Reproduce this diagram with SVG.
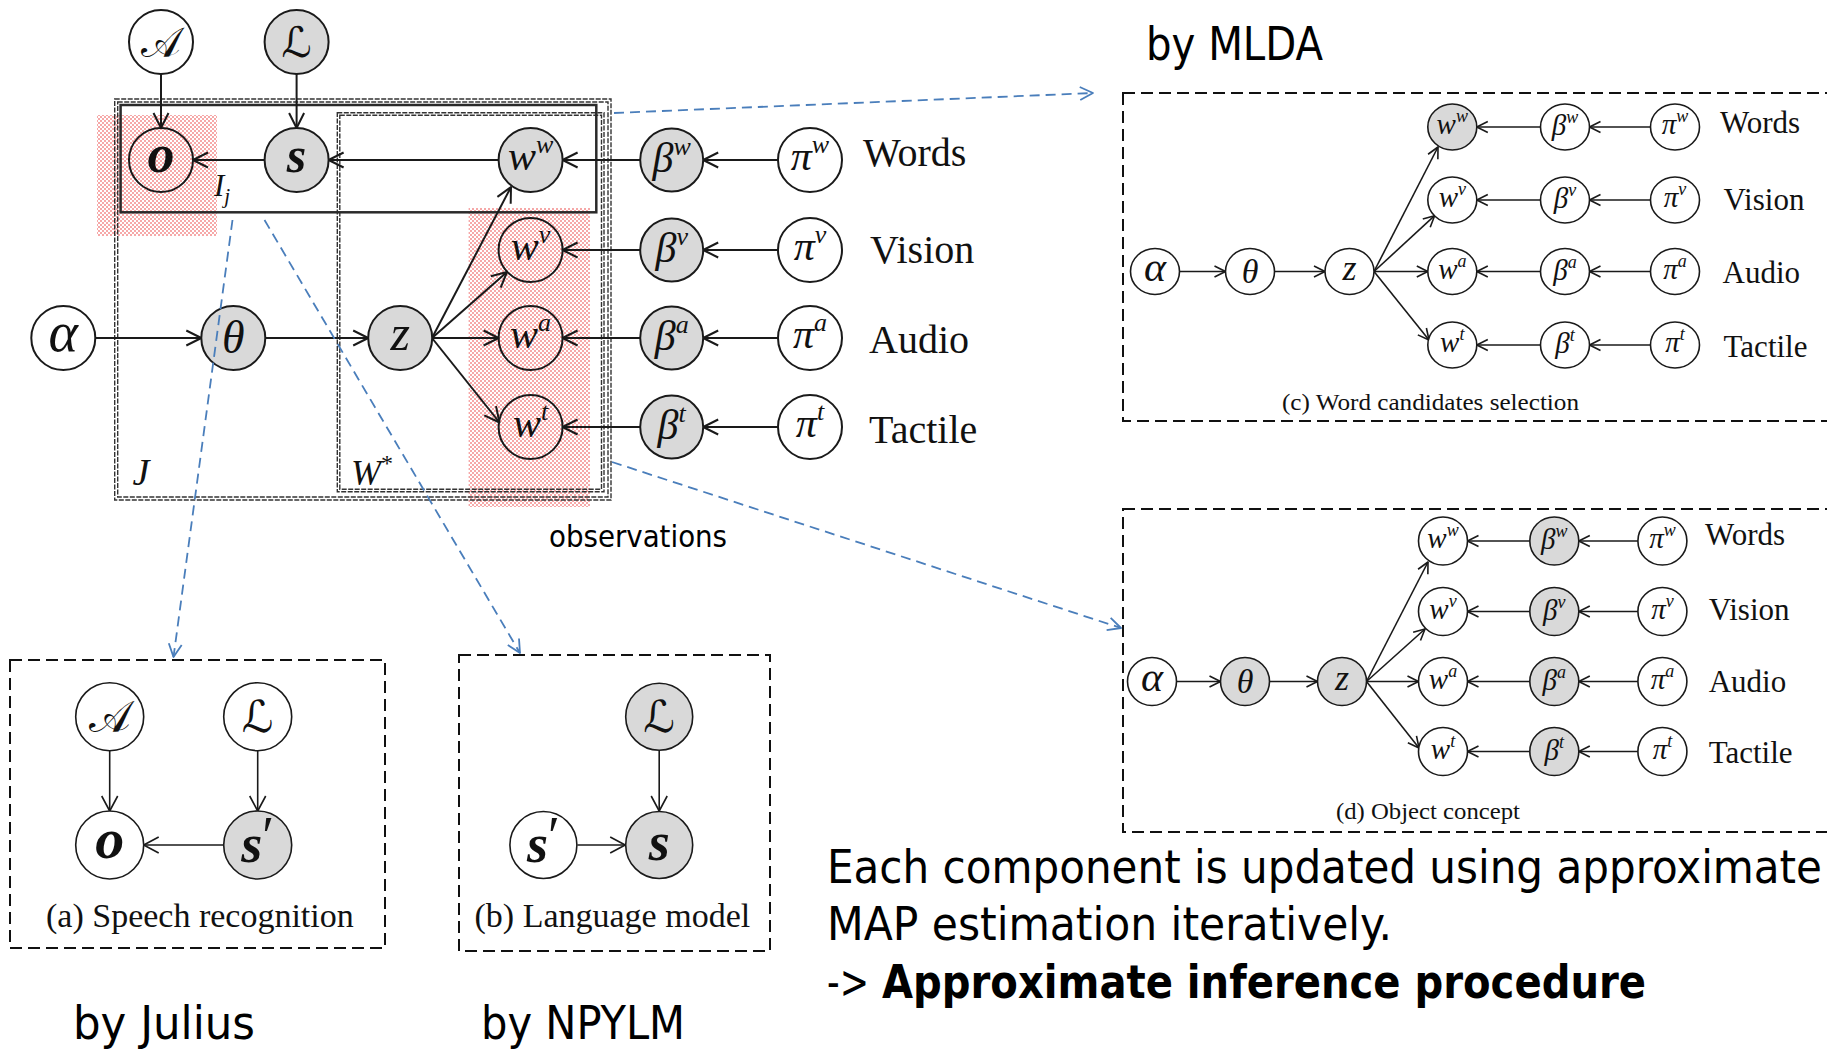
<svg xmlns="http://www.w3.org/2000/svg" width="1827" height="1049" viewBox="0 0 1827 1049">
<style>
.n{stroke:#1a1a1a;stroke-width:2;fill:#fff}
.ns{stroke:#1a1a1a;stroke-width:1.6;fill:#fff}
.g{fill:#d9d9d9}
.clear{fill:none}
.m{font-family:"Liberation Serif","DejaVu Serif",serif;font-style:italic;text-anchor:middle;fill:#111}
.cal{font-family:"DejaVu Serif","DejaVu Sans","Liberation Serif",serif;font-style:normal;text-anchor:middle;fill:#111}
.b{font-weight:bold}
.e{stroke:#1a1a1a;stroke-width:2;fill:none;marker-end:url(#ah)}
.es{stroke:#1a1a1a;stroke-width:1.6;fill:none;marker-end:url(#ahs)}
.em{stroke:#1a1a1a;stroke-width:1.6;fill:none;marker-end:url(#ahm)}
.blue{stroke:#4a7ebb;stroke-width:1.8;fill:none;stroke-dasharray:10 6;marker-end:url(#ahb)}
.lbl{font-family:"Liberation Serif","Times New Roman",serif;fill:#111}
.box{fill:none;stroke:#111;stroke-width:2;stroke-dasharray:12 6}
.plate{fill:none;stroke:#333;stroke-width:1.4;stroke-dasharray:5 1.5}
.sans{font-family:"DejaVu Sans Condensed","DejaVu Sans",sans-serif;font-stretch:condensed;fill:#000}
</style>
<defs>
<marker id="ah" viewBox="-20 -10 22 20" markerWidth="22" markerHeight="20" refX="0" refY="0" orient="auto" markerUnits="userSpaceOnUse" overflow="visible"><path d="M-15,-7.5 L0,0 L-15,7.5" fill="none" stroke="#1a1a1a" stroke-width="2" stroke-linejoin="round"/></marker>
<marker id="ahs" viewBox="-14 -8 16 16" markerWidth="16" markerHeight="16" refX="0" refY="0" orient="auto" markerUnits="userSpaceOnUse" overflow="visible"><path d="M-11,-5.5 L0,0 L-11,5.5" fill="none" stroke="#1a1a1a" stroke-width="1.6" stroke-linejoin="round"/></marker>
<marker id="ahm" viewBox="-18 -10 20 20" markerWidth="20" markerHeight="20" refX="0" refY="0" orient="auto" markerUnits="userSpaceOnUse" overflow="visible"><path d="M-15,-8 L0,0 L-15,8" fill="none" stroke="#1a1a1a" stroke-width="1.6" stroke-linejoin="round"/></marker>
<marker id="ahb" viewBox="-16 -8 18 16" markerWidth="18" markerHeight="16" refX="0" refY="0" orient="auto" markerUnits="userSpaceOnUse" overflow="visible"><path d="M-13,-6.5 L0,0 L-13,6.5" fill="none" stroke="#4a7ebb" stroke-width="1.8" stroke-linejoin="round"/></marker>
<pattern id="pink" width="4" height="4" patternUnits="userSpaceOnUse"><rect x="0" y="0" width="2" height="2" fill="#f6a8a8"/><rect x="2" y="2" width="2" height="2" fill="#f6a8a8"/></pattern>
</defs>

<!-- ============ Main graphical model ============ -->
<!-- highlighted observation areas (drawn first, nodes on top are see-through) -->
<g id="highlight">
  <rect x="97" y="115" width="120" height="121" fill="url(#pink)"/>
  <rect x="468.6" y="208" width="121.4" height="299" fill="url(#pink)"/>
</g>

<g id="plates">
  <rect class="plate" x="114.7" y="99" width="496.3" height="401"/>
  <rect class="plate" x="117.7" y="102" width="490.3" height="395"/>
  <rect class="plate" x="337.3" y="112.7" width="266.7" height="379"/>
  <rect class="plate" x="339.8" y="115.2" width="261.7" height="374"/>
  <rect x="120.6" y="105" width="475.7" height="107.3" fill="none" stroke="#2a2a2a" stroke-width="2.5"/>
  <text class="m" x="141" y="485" font-size="38">J</text>
  <text class="m" x="372" y="485" font-size="36">W<tspan font-size="24" dy="-14" font-style="normal">*</tspan></text>
  <text class="m" x="222" y="196" font-size="31">I<tspan font-size="21" dy="7">j</tspan></text>
</g>

<g id="main-edges">
  <path class="e" d="M161,74 L161,128"/>
  <path class="e" d="M296.6,74 L296.6,128"/>
  <path class="e" d="M264.6,160 L193,160"/>
  <path class="e" d="M499,160 L328.6,160"/>
  <path class="e" d="M95.3,338 L201.3,338"/>
  <path class="e" d="M265.3,338 L368.2,338"/>
  <path class="e" d="M432,338 L511,187"/>
  <path class="e" d="M432,338 L507,272"/>
  <path class="e" d="M432,338 L498.6,338"/>
  <path class="e" d="M432,338 L499.5,422.5"/>
  <path class="e" d="M640.2,160 L562.6,160"/>
  <path class="e" d="M640.2,250 L562.6,250"/>
  <path class="e" d="M640.2,338 L562.6,338"/>
  <path class="e" d="M640.2,427 L562.6,427"/>
  <path class="e" d="M778,160 L703.2,160"/>
  <path class="e" d="M778,250 L703.2,250"/>
  <path class="e" d="M778,338 L703.2,338"/>
  <path class="e" d="M778,427 L703.2,427"/>
</g>

<g id="main-A"><circle class="n" cx="161" cy="42" r="32"/><text class="cal" x="161" y="57" font-size="42" font-style="italic">𝒜</text></g>
<g id="main-L"><circle class="n g" cx="296.6" cy="42" r="32"/><text class="cal" x="296.6" y="57" font-size="42">ℒ</text></g>
<g id="main-o"><circle class="n clear" cx="161" cy="160" r="32"/><text class="m b" x="161" y="172" font-size="54">o</text></g>
<g id="main-s"><circle class="n g" cx="296.6" cy="160" r="32"/><text class="m b" x="296.6" y="172" font-size="50">s</text></g>
<g id="main-ww"><circle class="n g" cx="530.6" cy="160" r="32"/><text class="m" x="530.6" y="170" font-size="42">w<tspan font-size="26" dy="-17">w</tspan></text></g>
<g id="main-wv"><circle class="n clear" cx="530.6" cy="250" r="32"/><text class="m" x="530.6" y="260" font-size="42">w<tspan font-size="26" dy="-17">v</tspan></text></g>
<g id="main-wa"><circle class="n clear" cx="530.6" cy="338" r="32"/><text class="m" x="530.6" y="348" font-size="42">w<tspan font-size="26" dy="-17">a</tspan></text></g>
<g id="main-wt"><circle class="n clear" cx="530.6" cy="427" r="32"/><text class="m" x="530.6" y="437" font-size="42">w<tspan font-size="26" dy="-17">t</tspan></text></g>
<g id="main-alpha"><circle class="n" cx="63.3" cy="338" r="32"/><text class="m" x="63.3" y="351" font-size="56">α</text></g>
<g id="main-theta"><circle class="n g" cx="233.3" cy="338" r="32"/><text class="m" x="233.3" y="353" font-size="46">θ</text></g>
<g id="main-z"><circle class="n g" cx="400.2" cy="338" r="32"/><text class="m" x="400.2" y="350" font-size="50">z</text></g>
<g id="main-bw"><circle class="n g" cx="671.7" cy="160" r="31.5"/><text class="m" x="671.7" y="172" font-size="42">β<tspan font-size="26" dy="-17">w</tspan></text></g>
<g id="main-bv"><circle class="n g" cx="671.7" cy="250" r="31.5"/><text class="m" x="671.7" y="262" font-size="42">β<tspan font-size="26" dy="-17">v</tspan></text></g>
<g id="main-ba"><circle class="n g" cx="671.7" cy="338" r="31.5"/><text class="m" x="671.7" y="350" font-size="42">β<tspan font-size="26" dy="-17">a</tspan></text></g>
<g id="main-bt"><circle class="n g" cx="671.7" cy="427" r="31.5"/><text class="m" x="671.7" y="439" font-size="42">β<tspan font-size="26" dy="-17">t</tspan></text></g>
<g id="main-pw"><circle class="n" cx="810" cy="160" r="32"/><text class="m" x="810" y="170" font-size="42">π<tspan font-size="26" dy="-17">w</tspan></text></g>
<g id="main-pv"><circle class="n" cx="810" cy="250" r="32"/><text class="m" x="810" y="260" font-size="42">π<tspan font-size="26" dy="-17">v</tspan></text></g>
<g id="main-pa"><circle class="n" cx="810" cy="338" r="32"/><text class="m" x="810" y="348" font-size="42">π<tspan font-size="26" dy="-17">a</tspan></text></g>
<g id="main-pt"><circle class="n" cx="810" cy="427" r="32"/><text class="m" x="810" y="437" font-size="42">π<tspan font-size="26" dy="-17">t</tspan></text></g>

<g id="main-labels" class="lbl" font-size="40">
  <text x="863" y="166">Words</text>
  <text x="870" y="263">Vision</text>
  <text x="869" y="353">Audio</text>
  <text x="869" y="443">Tactile</text>
</g>

<text id="observations" class="sans" x="549" y="547" font-size="31" textLength="178" lengthAdjust="spacingAndGlyphs">observations</text>

<!-- ============ (c) Word candidates selection ============ -->
<g id="box-c">
  <rect class="box" x="1123" y="93" width="740" height="328"/>
  <text class="lbl" x="1282" y="410" font-size="24" textLength="297" lengthAdjust="spacingAndGlyphs">(c) Word candidates selection</text>
  <text class="sans" x="1146" y="60" font-size="46" textLength="177" lengthAdjust="spacingAndGlyphs">by MLDA</text>
</g>
<g id="c-edges">
  <path class="es" d="M1179.5,271.5 L1225.5,271.5"/>
  <path class="es" d="M1274.5,271.5 L1325,271.5"/>
  <path class="es" d="M1374,271.5 L1438,147"/>
  <path class="es" d="M1374,271.5 L1434.6,215.7"/>
  <path class="es" d="M1374,271.5 L1427.8,271.5"/>
  <path class="es" d="M1374,271.5 L1429,340"/>
  <path class="es" d="M1540.5,127 L1476.8,127"/>
  <path class="es" d="M1540.5,200 L1476.8,200"/>
  <path class="es" d="M1540.5,271.5 L1476.8,271.5"/>
  <path class="es" d="M1540.5,345 L1476.8,345"/>
  <path class="es" d="M1650.5,127 L1589.5,127"/>
  <path class="es" d="M1650.5,200 L1589.5,200"/>
  <path class="es" d="M1650.5,271.5 L1589.5,271.5"/>
  <path class="es" d="M1650.5,345 L1589.5,345"/>
</g>
<g id="c-alpha"><ellipse class="ns" cx="1155" cy="271.5" rx="24.5" ry="23"/><text class="m" x="1155" y="281" font-size="42">α</text></g>
<g id="c-theta"><ellipse class="ns" cx="1250" cy="271.5" rx="24.5" ry="23"/><text class="m" x="1250" y="283" font-size="34">θ</text></g>
<g id="c-z"><ellipse class="ns" cx="1349.5" cy="271.5" rx="24.5" ry="23"/><text class="m" x="1349.5" y="280" font-size="36">z</text></g>
<g id="c-ww"><ellipse class="ns g" cx="1452.3" cy="127" rx="24.5" ry="23"/><text class="m" x="1452.3" y="134" font-size="29">w<tspan font-size="18" dy="-12">w</tspan></text></g>
<g id="c-wv"><ellipse class="ns" cx="1452.3" cy="200" rx="24.5" ry="23"/><text class="m" x="1452.3" y="207" font-size="29">w<tspan font-size="18" dy="-12">v</tspan></text></g>
<g id="c-wa"><ellipse class="ns" cx="1452.3" cy="271.5" rx="24.5" ry="23"/><text class="m" x="1452.3" y="278.5" font-size="29">w<tspan font-size="18" dy="-12">a</tspan></text></g>
<g id="c-wt"><ellipse class="ns" cx="1452.3" cy="345" rx="24.5" ry="23"/><text class="m" x="1452.3" y="352" font-size="29">w<tspan font-size="18" dy="-12">t</tspan></text></g>
<g id="c-bw"><ellipse class="ns" cx="1565" cy="127" rx="24.5" ry="23"/><text class="m" x="1565" y="135" font-size="29">β<tspan font-size="18" dy="-12">w</tspan></text></g>
<g id="c-bv"><ellipse class="ns" cx="1565" cy="200" rx="24.5" ry="23"/><text class="m" x="1565" y="208" font-size="29">β<tspan font-size="18" dy="-12">v</tspan></text></g>
<g id="c-ba"><ellipse class="ns" cx="1565" cy="271.5" rx="24.5" ry="23"/><text class="m" x="1565" y="279.5" font-size="29">β<tspan font-size="18" dy="-12">a</tspan></text></g>
<g id="c-bt"><ellipse class="ns" cx="1565" cy="345" rx="24.5" ry="23"/><text class="m" x="1565" y="353" font-size="29">β<tspan font-size="18" dy="-12">t</tspan></text></g>
<g id="c-pw"><ellipse class="ns" cx="1675" cy="127" rx="24.5" ry="23"/><text class="m" x="1675" y="134" font-size="29">π<tspan font-size="18" dy="-12">w</tspan></text></g>
<g id="c-pv"><ellipse class="ns" cx="1675" cy="200" rx="24.5" ry="23"/><text class="m" x="1675" y="207" font-size="29">π<tspan font-size="18" dy="-12">v</tspan></text></g>
<g id="c-pa"><ellipse class="ns" cx="1675" cy="271.5" rx="24.5" ry="23"/><text class="m" x="1675" y="278.5" font-size="29">π<tspan font-size="18" dy="-12">a</tspan></text></g>
<g id="c-pt"><ellipse class="ns" cx="1675" cy="345" rx="24.5" ry="23"/><text class="m" x="1675" y="352" font-size="29">π<tspan font-size="18" dy="-12">t</tspan></text></g>
<g id="c-labels" class="lbl" font-size="31">
  <text x="1720" y="133">Words</text>
  <text x="1723.6" y="210">Vision</text>
  <text x="1722.6" y="283">Audio</text>
  <text x="1723.6" y="357">Tactile</text>
</g>

<!-- ============ (d) Object concept ============ -->
<g id="box-d">
  <rect class="box" x="1123" y="509" width="740" height="323"/>
  <text class="lbl" x="1336" y="819" font-size="23.5" textLength="184" lengthAdjust="spacingAndGlyphs">(d) Object concept</text>
</g>
<g id="d-edges">
  <path class="es" d="M1176.5,681.5 L1220.5,681.5"/>
  <path class="es" d="M1269.5,681.5 L1317.5,681.5"/>
  <path class="es" d="M1366.5,681.5 L1428,562"/>
  <path class="es" d="M1366.5,681.5 L1425,629"/>
  <path class="es" d="M1366.5,681.5 L1418.5,681.5"/>
  <path class="es" d="M1366.5,681.5 L1419,748"/>
  <path class="es" d="M1529.8,541 L1467.5,541"/>
  <path class="es" d="M1529.8,611.5 L1467.5,611.5"/>
  <path class="es" d="M1529.8,681.5 L1467.5,681.5"/>
  <path class="es" d="M1529.8,751.5 L1467.5,751.5"/>
  <path class="es" d="M1637.9,541 L1578.8,541"/>
  <path class="es" d="M1637.9,611.5 L1578.8,611.5"/>
  <path class="es" d="M1637.9,681.5 L1578.8,681.5"/>
  <path class="es" d="M1637.9,751.5 L1578.8,751.5"/>
</g>
<g id="d-alpha"><ellipse class="ns" cx="1152" cy="681.5" rx="24.5" ry="24"/><text class="m" x="1152" y="691" font-size="42">α</text></g>
<g id="d-theta"><ellipse class="ns g" cx="1245" cy="681.5" rx="24.5" ry="24"/><text class="m" x="1245" y="693" font-size="34">θ</text></g>
<g id="d-z"><ellipse class="ns g" cx="1342" cy="681.5" rx="24.5" ry="24"/><text class="m" x="1342" y="690" font-size="36">z</text></g>
<g id="d-ww"><ellipse class="ns" cx="1443" cy="541" rx="24.5" ry="24"/><text class="m" x="1443" y="548" font-size="29">w<tspan font-size="18" dy="-12">w</tspan></text></g>
<g id="d-wv"><ellipse class="ns" cx="1443" cy="611.5" rx="24.5" ry="24"/><text class="m" x="1443" y="618.5" font-size="29">w<tspan font-size="18" dy="-12">v</tspan></text></g>
<g id="d-wa"><ellipse class="ns" cx="1443" cy="681.5" rx="24.5" ry="24"/><text class="m" x="1443" y="688.5" font-size="29">w<tspan font-size="18" dy="-12">a</tspan></text></g>
<g id="d-wt"><ellipse class="ns" cx="1443" cy="751.5" rx="24.5" ry="24"/><text class="m" x="1443" y="758.5" font-size="29">w<tspan font-size="18" dy="-12">t</tspan></text></g>
<g id="d-bw"><ellipse class="ns g" cx="1554.3" cy="541" rx="24.5" ry="24"/><text class="m" x="1554.3" y="549" font-size="29">β<tspan font-size="18" dy="-12">w</tspan></text></g>
<g id="d-bv"><ellipse class="ns g" cx="1554.3" cy="611.5" rx="24.5" ry="24"/><text class="m" x="1554.3" y="619.5" font-size="29">β<tspan font-size="18" dy="-12">v</tspan></text></g>
<g id="d-ba"><ellipse class="ns g" cx="1554.3" cy="681.5" rx="24.5" ry="24"/><text class="m" x="1554.3" y="689.5" font-size="29">β<tspan font-size="18" dy="-12">a</tspan></text></g>
<g id="d-bt"><ellipse class="ns g" cx="1554.3" cy="751.5" rx="24.5" ry="24"/><text class="m" x="1554.3" y="759.5" font-size="29">β<tspan font-size="18" dy="-12">t</tspan></text></g>
<g id="d-pw"><ellipse class="ns" cx="1662.4" cy="541" rx="24.5" ry="24"/><text class="m" x="1662.4" y="548" font-size="29">π<tspan font-size="18" dy="-12">w</tspan></text></g>
<g id="d-pv"><ellipse class="ns" cx="1662.4" cy="611.5" rx="24.5" ry="24"/><text class="m" x="1662.4" y="618.5" font-size="29">π<tspan font-size="18" dy="-12">v</tspan></text></g>
<g id="d-pa"><ellipse class="ns" cx="1662.4" cy="681.5" rx="24.5" ry="24"/><text class="m" x="1662.4" y="688.5" font-size="29">π<tspan font-size="18" dy="-12">a</tspan></text></g>
<g id="d-pt"><ellipse class="ns" cx="1662.4" cy="751.5" rx="24.5" ry="24"/><text class="m" x="1662.4" y="758.5" font-size="29">π<tspan font-size="18" dy="-12">t</tspan></text></g>
<g id="d-labels" class="lbl" font-size="31">
  <text x="1705" y="545">Words</text>
  <text x="1708.7" y="620">Vision</text>
  <text x="1708.7" y="692">Audio</text>
  <text x="1708.7" y="763">Tactile</text>
</g>

<!-- ============ (a) Speech recognition ============ -->
<g id="box-a">
  <rect class="box" x="10" y="660" width="375" height="288"/>
  <text class="lbl" x="46" y="927" font-size="34">(a) Speech recognition</text>
</g>
<g id="a-edges">
  <path class="em" d="M109.7,750.7 L109.7,811"/>
  <path class="em" d="M257.7,750.7 L257.7,811"/>
  <path class="em" d="M223.7,845 L143.7,845"/>
</g>
<g id="a-A"><ellipse class="ns" cx="109.7" cy="716.7" rx="34" ry="34"/><text class="cal" x="109.7" y="732" font-size="44" font-style="italic">𝒜</text></g>
<g id="a-L"><ellipse class="ns" cx="257.7" cy="716.7" rx="34" ry="34"/><text class="cal" x="257.7" y="732" font-size="44">ℒ</text></g>
<g id="a-o"><ellipse class="ns" cx="109.7" cy="845" rx="34" ry="34"/><text class="m b" x="109.7" y="858" font-size="58">o</text></g>
<g id="a-s"><ellipse class="ns g" cx="257.7" cy="845" rx="34" ry="34"/><text class="m b" x="257.7" y="862" font-size="54">s<tspan font-style="normal" font-weight="normal" font-size="54" dy="-8">′</tspan></text></g>

<!-- ============ (b) Language model ============ -->
<g id="box-b">
  <rect class="box" x="459" y="655" width="311" height="296"/>
  <text class="lbl" x="474.5" y="927" font-size="34">(b) Language model</text>
</g>
<g id="b-edges">
  <path class="em" d="M659.2,750.7 L659.2,811"/>
  <path class="em" d="M577.4,845 L625.2,845"/>
</g>
<g id="b-L"><ellipse class="ns g" cx="659.2" cy="716.7" rx="33.5" ry="33.5"/><text class="cal" x="659.2" y="732" font-size="44">ℒ</text></g>
<g id="b-S"><ellipse class="ns g" cx="659.2" cy="845" rx="33.5" ry="33.5"/><text class="m b" x="659.2" y="860" font-size="54">s</text></g>
<g id="b-s1"><ellipse class="ns" cx="543.4" cy="845" rx="33.5" ry="33.5"/><text class="m b" x="543.4" y="862" font-size="54">s<tspan font-style="normal" font-weight="normal" font-size="54" dy="-8">′</tspan></text></g>

<!-- ============ dashed pointers to the component models ============ -->
<g id="pointers">
  <path class="blue" d="M614,113 L1093,93"/>
  <path class="blue" d="M612,462 L1121,628"/>
  <path class="blue" d="M232.5,220 L173.5,657"/>
  <path class="blue" d="M264.5,220 L520,653"/>
</g>

<!-- ============ captions ============ -->
<g id="captions">
  <text class="sans" x="73" y="1039" font-size="46" textLength="182" lengthAdjust="spacingAndGlyphs">by Julius</text>
  <text class="sans" x="481" y="1039" font-size="46" textLength="204" lengthAdjust="spacingAndGlyphs">by NPYLM</text>
  <text class="sans" x="827" y="883" font-size="46" textLength="995" lengthAdjust="spacingAndGlyphs">Each component is updated using approximate</text>
  <text class="sans" x="827" y="940" font-size="46" textLength="565" lengthAdjust="spacingAndGlyphs">MAP estimation iteratively.</text>
  <text class="sans" x="827" y="998" font-size="46" textLength="42" lengthAdjust="spacingAndGlyphs">-&gt;</text>
  <text class="sans" x="882" y="998" font-size="46" font-weight="bold" textLength="764" lengthAdjust="spacingAndGlyphs">Approximate inference procedure</text>
</g>
</svg>
